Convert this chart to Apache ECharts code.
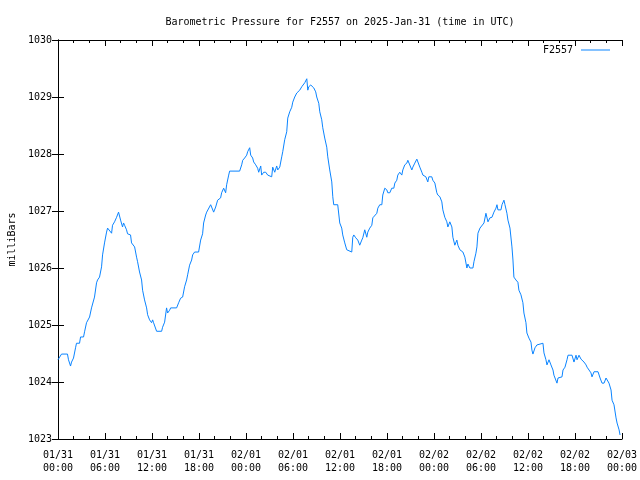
<!DOCTYPE html>
<html>
<head>
<meta charset="utf-8">
<script src="https://cdn.jsdelivr.net/npm/echarts@6/dist/echarts.min.js"></script>
<style>html,body{margin:0;padding:0;background:#fff}#c{width:640px;height:480px}</style>
</head>
<body>
<div id="c"></div>
<script>
// hours since 2025-01-31 00:00 UTC
const hours = [0,0.45,1.21,1.34,1.6,1.73,1.98,2.24,2.36,2.75,2.88,3.26,3.39,3.64,4.03,4.28,4.41,4.66,4.92,5.05,5.3,5.56,5.69,5.94,6.2,6.33,6.58,6.84,6.96,7.22,7.48,7.73,7.99,8.24,8.37,8.5,8.75,8.88,9.26,9.39,9.78,10.03,10.16,10.41,10.67,10.8,11.05,11.31,11.44,11.69,11.95,12.08,12.2,12.59,13.23,13.35,13.61,13.86,13.99,14.25,14.38,15.14,15.4,15.65,15.91,16.16,16.42,16.55,16.8,17.06,17.19,17.44,17.95,18.21,18.46,18.59,18.85,18.98,19.23,19.49,19.61,19.87,20.13,20.38,20.76,20.89,21.15,21.4,21.53,21.79,21.91,23.19,23.45,23.58,23.83,24.09,24.21,24.47,24.6,24.85,24.98,25.24,25.49,25.62,25.88,26.0,26.26,26.52,26.77,26.9,27.28,27.41,27.67,27.92,28.05,28.31,28.56,28.69,28.94,29.2,29.33,29.58,29.84,29.97,30.22,30.48,30.61,30.86,31.12,31.25,31.5,31.76,31.89,32.01,32.27,32.52,32.65,32.9,33.03,33.29,33.42,33.67,33.8,34.05,34.31,34.44,34.69,34.95,35.08,35.2,35.71,35.97,36.22,36.35,36.61,36.86,37.5,37.63,37.76,38.01,38.27,38.52,38.78,38.91,39.16,39.42,39.55,39.8,40.06,40.19,40.44,40.7,40.83,41.08,41.34,41.46,41.72,41.98,42.1,42.36,42.61,42.87,43.0,43.25,43.38,43.63,43.89,44.02,44.27,44.53,44.66,44.91,45.17,45.3,45.55,45.81,45.94,46.19,46.45,46.58,46.96,47.21,47.34,47.72,47.85,48.11,48.36,48.49,48.75,49.0,49.13,49.38,49.64,49.77,50.02,50.28,50.41,50.66,50.92,51.05,51.3,51.69,51.94,52.2,52.33,52.58,52.97,53.1,53.35,53.48,53.61,53.87,54.12,54.38,54.63,54.76,54.89,55.14,55.4,55.65,55.91,56.04,56.16,56.55,56.68,56.93,57.06,57.31,57.44,57.7,57.95,58.08,58.2,58.46,58.71,58.84,59.1,59.35,59.48,59.74,59.86,60.12,60.38,60.5,60.63,60.89,61.14,61.27,61.91,62.04,62.29,62.42,62.68,62.93,63.19,63.31,63.7,63.83,64.34,64.47,64.72,64.98,65.11,65.62,65.87,66.13,66.26,66.51,66.77,66.9,67.15,67.41,67.54,67.79,68.04,68.17,68.43,68.94,69.2,69.45,69.71,69.96,70.09,70.34,70.6,70.73,70.98,71.24,71.37,71.63,71.75];
const pressure = [1024.39,1024.49,1024.49,1024.39,1024.28,1024.35,1024.42,1024.6,1024.68,1024.68,1024.79,1024.79,1024.88,1025.04,1025.14,1025.3,1025.3,1025.49,1025.74,1025.79,1025.84,1026.02,1026.23,1026.44,1026.63,1026.7,1026.7,1026.61,1026.75,1026.81,1026.89,1026.98,1026.84,1026.72,1026.79,1026.75,1026.67,1026.6,1026.58,1026.44,1026.37,1026.19,1026.11,1025.93,1025.79,1025.61,1025.44,1025.3,1025.18,1025.09,1025.04,1025.09,1025.04,1024.89,1024.89,1024.96,1025.05,1025.3,1025.21,1025.26,1025.3,1025.3,1025.39,1025.47,1025.49,1025.67,1025.79,1025.88,1026.05,1026.14,1026.23,1026.28,1026.28,1026.49,1026.6,1026.79,1026.93,1026.98,1026.98,1027.11,1027.07,1026.98,1027.07,1027.19,1027.23,1027.32,1027.4,1027.32,1027.46,1027.63,1027.7,1027.7,1027.81,1027.89,1027.93,1027.98,1028.04,1028.11,1027.98,1027.93,1027.86,1027.81,1027.75,1027.68,1027.79,1027.63,1027.68,1027.68,1027.63,1027.6,1027.6,1027.77,1027.68,1027.79,1027.72,1027.77,1027.95,1028.04,1028.25,1028.39,1028.63,1028.74,1028.82,1028.91,1029.0,1029.07,1029.09,1029.12,1029.18,1029.21,1029.25,1029.32,1029.12,1029.18,1029.21,1029.21,1029.16,1029.09,1029.0,1028.89,1028.74,1028.6,1028.46,1028.28,1028.12,1027.95,1027.72,1027.51,1027.25,1027.11,1027.11,1026.79,1026.7,1026.58,1026.44,1026.32,1026.28,1026.54,1026.58,1026.53,1026.49,1026.4,1026.49,1026.53,1026.67,1026.54,1026.63,1026.7,1026.75,1026.88,1026.89,1026.96,1027.05,1027.11,1027.11,1027.28,1027.4,1027.37,1027.32,1027.32,1027.4,1027.4,1027.49,1027.54,1027.63,1027.68,1027.63,1027.72,1027.81,1027.84,1027.89,1027.91,1027.72,1027.77,1027.84,1027.91,1027.88,1027.77,1027.68,1027.63,1027.6,1027.51,1027.6,1027.6,1027.54,1027.49,1027.32,1027.28,1027.25,1027.16,1027.02,1026.89,1026.81,1026.72,1026.81,1026.72,1026.54,1026.4,1026.49,1026.4,1026.32,1026.28,1026.19,1026.0,1026.07,1026.0,1026.0,1026.11,1026.26,1026.37,1026.61,1026.7,1026.72,1026.79,1026.96,1026.98,1026.81,1026.88,1026.89,1026.98,1027.05,1027.11,1027.02,1027.02,1027.11,1027.19,1027.11,1026.96,1026.84,1026.7,1026.37,1026.14,1025.84,1025.79,1025.75,1025.61,1025.53,1025.39,1025.21,1025.04,1024.86,1024.77,1024.7,1024.56,1024.49,1024.6,1024.65,1024.68,1024.68,1024.51,1024.39,1024.3,1024.39,1024.3,1024.21,1024.12,1023.98,1024.07,1024.09,1024.21,1024.26,1024.39,1024.47,1024.47,1024.35,1024.47,1024.39,1024.47,1024.4,1024.39,1024.35,1024.3,1024.26,1024.21,1024.16,1024.09,1024.18,1024.18,1024.07,1023.98,1023.98,1024.07,1024.07,1023.98,1023.86,1023.68,1023.6,1023.37,1023.28,1023.16,1023.07];
const xTickLabels = ['01/31\n00:00','01/31\n06:00','01/31\n12:00','01/31\n18:00','02/01\n00:00','02/01\n06:00','02/01\n12:00','02/01\n18:00','02/02\n00:00','02/02\n06:00','02/02\n12:00','02/02\n18:00','02/03\n00:00'];
const titleText = 'Barometric Pressure for F2557 on 2025-Jan-31 (time in UTC)';
const seriesName = 'F2557';

const FONT = 'DejaVu Sans Mono';
const LINE_COLOR = '#0a84ff';
const chart = echarts.init(document.getElementById('c'), null, {renderer: 'canvas'});
const lineStyleAxis = {color: '#000', width: 1};
const tickIn = {show: true, inside: true, length: 6, lineStyle: {color: '#000'}};
const minorIn = {show: true, splitNumber: 3, length: 3, lineStyle: {color: '#000'}};
chart.setOption({
  animation: false,
  backgroundColor: '#fff',
  textStyle: {fontFamily: FONT, color: '#000'},
  title: {text: titleText, left: 340, top: 16, textAlign: 'center', padding: 0,
    textStyle: {fontFamily: FONT, fontSize: 10, fontWeight: 'normal', color: '#000', lineHeight: 12}},
  legend: {data: [{name: seriesName, icon: 'rect', itemStyle: {color: LINE_COLOR, opacity: 1}}],
    right: 30, top: 44, padding: 0, align: 'right', itemWidth: 29, itemHeight: 1, itemGap: 0,
    itemStyle: {color: LINE_COLOR, borderWidth: 0},
    textStyle: {fontFamily: FONT, fontSize: 10, color: '#000', lineHeight: 12, padding: [0, 3, 0, 0]}},
  grid: {left: 58, right: 18, top: 40, bottom: 41, containLabel: false, outerBoundsMode: 'none'},
  xAxis: [{
    type: 'value', min: 0, max: 72, interval: 6, position: 'bottom',
    axisLine: {show: true, lineStyle: lineStyleAxis},
    axisTick: tickIn, minorTick: minorIn,
    splitLine: {show: false},
    axisLabel: {margin: 10, fontFamily: FONT, fontSize: 10, color: '#000', lineHeight: 13,
      formatter: v => xTickLabels[Math.round(v / 6)]}
  }, {
    type: 'value', min: 0, max: 72, interval: 6, position: 'top',
    axisLine: {show: true, lineStyle: lineStyleAxis},
    axisTick: tickIn, minorTick: minorIn,
    splitLine: {show: false}, axisLabel: {show: false}
  }],
  yAxis: [{
    type: 'value', min: 1023, max: 1030, interval: 1, position: 'left',
    name: 'milliBars', nameLocation: 'middle', nameGap: 41, nameRotate: 90,
    nameTextStyle: {fontFamily: FONT, fontSize: 10, color: '#000'},
    axisLine: {show: true, lineStyle: lineStyleAxis},
    axisTick: tickIn, splitLine: {show: false},
    axisLabel: {margin: 6, fontFamily: FONT, fontSize: 10, color: '#000', formatter: v => String(v)}
  }, {
    type: 'value', min: 1023, max: 1030, interval: 1, position: 'right',
    axisLine: {show: true, lineStyle: lineStyleAxis},
    axisTick: tickIn, splitLine: {show: false}, axisLabel: {show: false}
  }],
  series: [{
    name: seriesName, type: 'line', xAxisIndex: 0, yAxisIndex: 0,
    symbol: 'none', showSymbol: false,
    lineStyle: {color: LINE_COLOR, width: 1}, itemStyle: {color: LINE_COLOR},
    data: hours.map((h, i) => [h, pressure[i]])
  }]
});
</script>
</body>
</html>
